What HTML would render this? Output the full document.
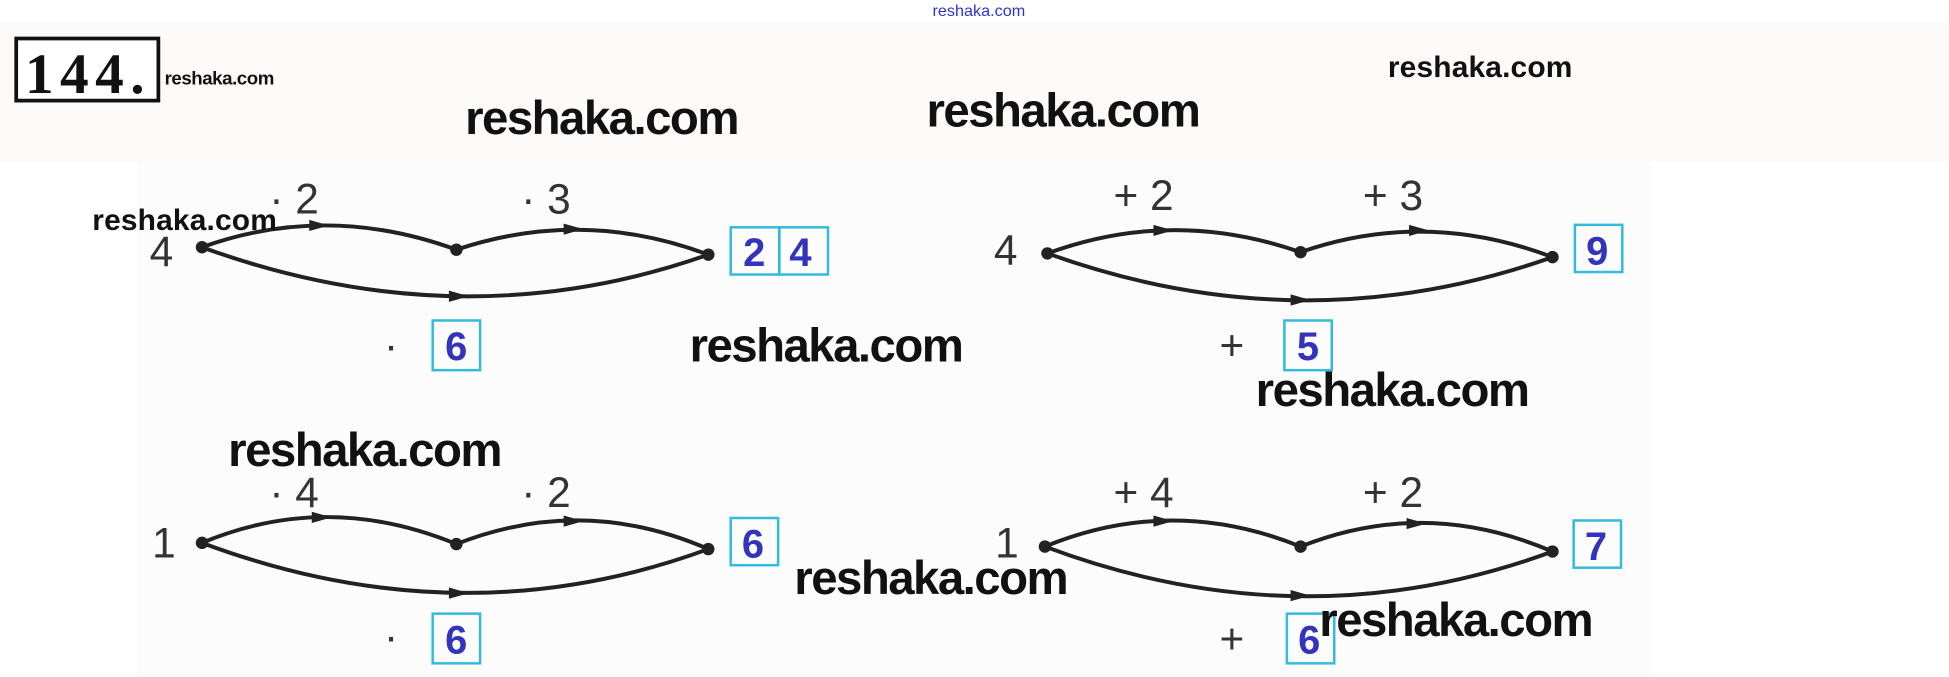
<!DOCTYPE html>
<html><head><meta charset="utf-8"><style>
html,body{margin:0;padding:0;background:#fff;width:1949px;height:677px;overflow:hidden}
svg{display:block}
.w{font-family:"Liberation Sans",sans-serif;font-weight:bold;fill:#111}
.n{font-family:"Liberation Sans",sans-serif;fill:#333;font-size:34px}
.a{font-family:"Liberation Sans",sans-serif;font-weight:bold;fill:#3333bb;font-size:32px}
.bx{fill:none;stroke:#33bbdd;stroke-width:2}
.c{fill:none;stroke:#222;stroke-width:3.2}
</style></head><body>
<svg width="1949" height="677" viewBox="0 0 1563 545" preserveAspectRatio="none" xmlns="http://www.w3.org/2000/svg">
<rect x="0" y="18" width="1563" height="112" fill="#fdfafa"/>
<rect x="110" y="130" width="1215" height="415" fill="#fcfcfc"/>
<text x="785" y="13" font-family="Liberation Sans,sans-serif" font-size="13" fill="#3333cc" text-anchor="middle">reshaka.com</text>
<rect x="13" y="31" width="114" height="50" fill="#fff" stroke="#111" stroke-width="3"/>
<text x="68" y="75" font-family="Liberation Serif,serif" font-weight="bold" font-size="46" text-anchor="middle" fill="#111" textLength="96">144.</text>
<text class="w" x="132" y="68" font-size="15" textLength="88">reshaka.com</text>
<text class="w" x="373" y="108" font-size="38" textLength="220">reshaka.com</text>
<text class="w" x="743" y="102" font-size="38" textLength="220">reshaka.com</text>
<text class="w" x="1113" y="62" font-size="24" textLength="148">reshaka.com</text>

<!-- diagram 1 -->
<g>
<text class="n" x="120" y="214">4</text>
<path class="c" d="M162,199 Q262,163 366,201"/>
<path class="c" d="M366,201 Q467,167 568,205"/>
<path class="c" d="M162,199 Q370,275 568,205"/>
<circle cx="162" cy="199" r="5" fill="#222"/><circle cx="366" cy="201" r="5" fill="#222"/><circle cx="568" cy="205" r="5" fill="#222"/>
<path d="M248,177 L264,181.5 L248,186 Z" fill="#222"/><path d="M452,180 L468,184.5 L452,189 Z" fill="#222"/><path d="M360,234 L376,238.5 L360,243 Z" fill="#222"/>
<text class="n" x="216" y="172">· 2</text><text class="n" x="418" y="172">· 3</text>
<rect class="bx" x="586" y="183" width="39" height="38"/><rect class="bx" x="625" y="183" width="39" height="38"/>
<text class="a" x="596" y="214">2</text><text class="a" x="633" y="214">4</text>
<text class="n" x="308" y="290">·</text>
<rect class="bx" x="347" y="258" width="38" height="40"/><text class="a" x="357" y="290">6</text>
</g>
<text class="w" x="74" y="185" font-size="24" textLength="148">reshaka.com</text>
<text class="w" x="553" y="291" font-size="38" textLength="220">reshaka.com</text>

<!-- diagram 2 -->
<g>
<text class="n" x="797" y="213">4</text>
<path class="c" d="M840,204 Q940,167 1043,203"/>
<path class="c" d="M1043,203 Q1143,168 1245,207"/>
<path class="c" d="M840,204 Q1045,278 1245,207"/>
<circle cx="840" cy="204" r="5" fill="#222"/><circle cx="1043" cy="203" r="5" fill="#222"/><circle cx="1245" cy="207" r="5" fill="#222"/>
<path d="M925,181 L941,185.5 L925,190 Z" fill="#222"/><path d="M1130,181 L1146,185.5 L1130,190 Z" fill="#222"/><path d="M1035,237 L1051,241.5 L1035,246 Z" fill="#222"/>
<text class="n" x="893" y="169">+ 2</text><text class="n" x="1093" y="169">+ 3</text>
<rect class="bx" x="1263" y="181" width="38" height="38"/><text class="a" x="1272" y="213">9</text>
<text class="n" x="978" y="290">+</text>
<rect class="bx" x="1030" y="258" width="38" height="40"/><text class="a" x="1040" y="290">5</text>
</g>
<text class="w" x="1007" y="327" font-size="38" textLength="220">reshaka.com</text>
<text class="w" x="183" y="375" font-size="38" textLength="220">reshaka.com</text>

<!-- diagram 3 -->
<g>
<text class="n" x="122" y="449">1</text>
<path class="c" d="M162,437 Q262,395 366,438"/>
<path class="c" d="M366,438 Q467,398 568,442"/>
<path class="c" d="M162,437 Q370,515 568,442"/>
<circle cx="162" cy="437" r="5" fill="#222"/><circle cx="366" cy="438" r="5" fill="#222"/><circle cx="568" cy="442" r="5" fill="#222"/>
<path d="M250,412 L266,416.5 L250,421 Z" fill="#222"/><path d="M452,415 L468,419.5 L452,424 Z" fill="#222"/><path d="M360,473 L376,477.5 L360,482 Z" fill="#222"/>
<text class="n" x="216" y="408">· 4</text><text class="n" x="418" y="408">· 2</text>
<rect class="bx" x="586" y="417" width="38" height="38"/><text class="a" x="595" y="449">6</text>
<text class="n" x="308" y="524">·</text>
<rect class="bx" x="347" y="494" width="38" height="40"/><text class="a" x="357" y="526">6</text>
</g>
<text class="w" x="637" y="478" font-size="38" textLength="220">reshaka.com</text>

<!-- diagram 4 -->
<g>
<text class="n" x="798" y="449">1</text>
<path class="c" d="M838,440 Q940,398 1043,440"/>
<path class="c" d="M1043,440 Q1143,400 1245,444"/>
<path class="c" d="M838,440 Q1045,518 1245,444"/>
<circle cx="838" cy="440" r="5" fill="#222"/><circle cx="1043" cy="440" r="5" fill="#222"/><circle cx="1245" cy="444" r="5" fill="#222"/>
<path d="M925,415 L941,419.5 L925,424 Z" fill="#222"/><path d="M1128,417 L1144,421.5 L1128,426 Z" fill="#222"/><path d="M1035,475 L1051,479.5 L1035,484 Z" fill="#222"/>
<text class="n" x="893" y="408">+ 4</text><text class="n" x="1093" y="408">+ 2</text>
<rect class="bx" x="1262" y="419" width="38" height="38"/><text class="a" x="1271" y="451">7</text>
<text class="n" x="978" y="526">+</text>
<rect class="bx" x="1032" y="494" width="38" height="40"/><text class="a" x="1041" y="526">6</text>
</g>
<text class="w" x="1058" y="512" font-size="38" textLength="220">reshaka.com</text>
</svg>
</body></html>
